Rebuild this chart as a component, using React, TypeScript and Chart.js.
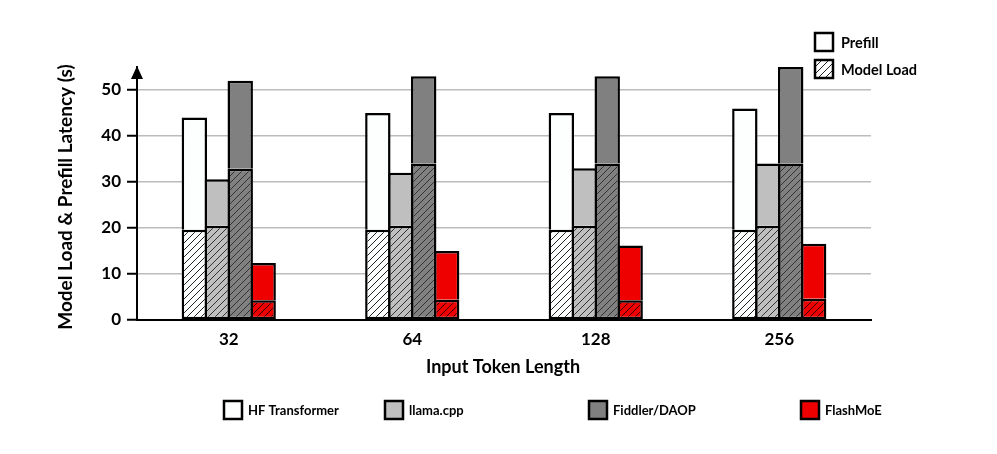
import React, { useEffect, useRef } from "react";
import { Chart, registerables } from "chart.js";

Chart.register(...registerables);

const categories = ["32", "64", "128", "256"];
const systems = ["HF Transformer", "llama.cpp", "Fiddler/DAOP", "FlashMoE"];
const hfLoad = [19.6, 19.6, 19.6, 19.6];
const hfTotal = [44, 45, 45, 46];
const llamaLoad = [20.5, 20.5, 20.5, 20.5];
const llamaTotal = [30.6, 32, 33, 34];
const fiddlerLoad = [32.9, 34, 34, 34];
const fiddlerTotal = [52, 53, 53, 55];
const flashLoad = [4.3, 4.4, 4.3, 4.6];
const flashTotal = [12.4, 15, 16.2, 16.6];
const yTicks = [0, 10, 20, 30, 40, 50];

const fills = ["#fdfefe", "#bfbfbf", "#808080", "#ee0000"];
const hatchLines = ["#222222", "#333333", "#333333", "#400000"];
const FONT = "Lato, 'Open Sans', sans-serif";

function makeHatch(bg: string, line: string): CanvasPattern {
  const c = document.createElement("canvas");
  const s = 7;
  c.width = s;
  c.height = s;
  const x = c.getContext("2d")!;
  x.fillStyle = bg;
  x.fillRect(0, 0, s, s);
  x.strokeStyle = line;
  x.lineWidth = 1;
  x.beginPath();
  x.moveTo(0, s);
  x.lineTo(s, 0);
  x.moveTo(-1, 1);
  x.lineTo(1, -1);
  x.moveTo(s - 1, s + 1);
  x.lineTo(s + 1, s - 1);
  x.stroke();
  return x.createPattern(c, "repeat")!;
}

export default function App() {
  const ref = useRef<HTMLCanvasElement>(null);
  useEffect(() => {
    document.body.style.margin = "0";
    const canvas = ref.current!;
    const loads = [hfLoad, llamaLoad, fiddlerLoad, flashLoad];
    const totals = [hfTotal, llamaTotal, fiddlerTotal, flashTotal];
    const stacks = ["hf", "llama", "fid", "flash"];
    const datasets: any[] = [];
    for (let i = 0; i < 4; i++) {
      datasets.push({
        label: systems[i] + " load",
        data: loads[i],
        stack: stacks[i],
        backgroundColor: makeHatch(fills[i], hatchLines[i]),
        borderColor: "#000",
        borderWidth: 2.5,
        borderSkipped: false,
      });
      datasets.push({
        label: systems[i] + " prefill",
        data: totals[i].map((t, k) => t - loads[i][k]),
        stack: stacks[i],
        backgroundColor: fills[i],
        borderColor: "#000",
        borderWidth: 2.5,
        borderSkipped: "start",
      });
    }

    const decor = {
      id: "decor",
      afterDraw(chart: any) {
        const ctx = chart.ctx as CanvasRenderingContext2D;
        const a = chart.chartArea;
        ctx.save();
        // arrow
        ctx.fillStyle = "#000";
        ctx.beginPath();
        ctx.moveTo(a.left, a.top - 1);
        ctx.lineTo(a.left - 6, a.top + 12);
        ctx.lineTo(a.left + 6, a.top + 12);
        ctx.closePath();
        ctx.fill();
        // y title
        ctx.font = `bold 19px ${FONT}`;
        ctx.textAlign = "center";
        ctx.textBaseline = "middle";
        ctx.save();
        ctx.translate(66, 197);
        ctx.rotate(-Math.PI / 2);
        ctx.fillText("Model Load & Prefill Latency (s)", 0, 0);
        ctx.restore();
        // x title
        ctx.font = `bold 18px ${FONT}`;
        ctx.fillText("Input Token Length", 503, 367);
        // top-right legend
        const hatchWhite = makeHatch("#ffffff", "#222222");
        ctx.lineWidth = 2.5;
        ctx.strokeStyle = "#000";
        ctx.fillStyle = "#fff";
        ctx.fillRect(815, 33, 18, 18);
        ctx.strokeRect(815, 33, 18, 18);
        ctx.fillStyle = hatchWhite;
        ctx.fillRect(815, 60, 18, 18);
        ctx.strokeRect(815, 60, 18, 18);
        ctx.fillStyle = "#000";
        ctx.font = `bold 14.5px ${FONT}`;
        ctx.textAlign = "left";
        ctx.fillText("Prefill", 841, 43);
        ctx.fillText("Model Load", 841, 70);
        // bottom legend
        const lx = [224, 385, 589, 801];
        ctx.font = `bold 13px ${FONT}`;
        for (let i = 0; i < 4; i++) {
          ctx.fillStyle = fills[i];
          ctx.fillRect(lx[i], 401, 18, 18);
          ctx.strokeRect(lx[i], 401, 18, 18);
          ctx.fillStyle = "#000";
          ctx.fillText(systems[i], lx[i] + 24, 411);
        }
        ctx.restore();
      },
    };

    const chart = new Chart(canvas, {
      type: "bar",
      data: { labels: categories, datasets },
      options: {
        animation: false,
        responsive: false,
        layout: { padding: { top: 67, right: 126, left: 0, bottom: 0 } },
        plugins: { legend: { display: false }, tooltip: { enabled: false } },
        datasets: { bar: { categoryPercentage: 0.5, barPercentage: 1.108 } },
        scales: {
          x: {
            stacked: true,
            grid: { display: false, drawTicks: false },
            border: { display: true, color: "#000", width: 2 },
            ticks: { color: "#000", padding: 9, font: { family: FONT, size: 17, weight: "bold" } },
            afterFit: (s: any) => { s.height = 134; },
          },
          y: {
            stacked: true,
            min: 0,
            max: 55,
            border: { display: true, color: "#000", width: 2 },
            grid: {
              color: (c: any) => (c.tick && c.tick.value > 0 && c.tick.value <= 50 ? "#bcbcbc" : "rgba(0,0,0,0)"),
              lineWidth: 1.5,
              tickLength: 10,
              tickColor: (c: any) => (c.tick && yTicks.includes(c.tick.value) ? "#000" : "rgba(0,0,0,0)"),
              tickWidth: 2,
            } as any,
            ticks: {
              stepSize: 5,
              color: "#000",
              padding: 6,
              font: { family: FONT, size: 17, weight: "bold" },
              callback: (v: any) => (yTicks.includes(Number(v)) ? String(v) : ""),
            },
            afterFit: (s: any) => { s.width = 137; },
          },
        },
      } as any,
      plugins: [decor],
    });
    return () => chart.destroy();
  }, []);
  return (
    <div style={{ width: 997, height: 454 }}>
      <canvas ref={ref} width={997} height={454} />
    </div>
  );
}
